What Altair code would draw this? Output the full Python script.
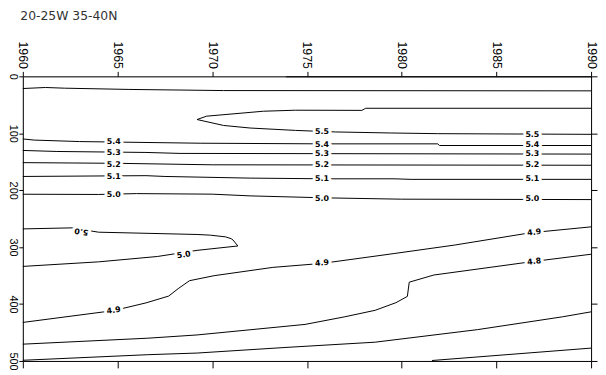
import altair as alt
import pandas as pd

title_text = "20-25W 35-40N"
x_ticks = [1960, 1965, 1970, 1975, 1980, 1985, 1990]
y_ticks = [0, 100, 200, 300, 400, 500]

# contour lines (year, depth)
surf_year = [1973.9, 1990]
surf_depth = [0.8, 0.8]

top_year = [1960, 1961.2, 1962.2, 1965.6, 1970.6, 1990]
top_depth = [21.4, 19.6, 20.8, 23.0, 25.0, 25.5]

c55_year = [1990, 1978.1, 1977.9, 1974.4, 1972.7, 1969.7, 1969.2, 1970.6, 1972.0, 1974.4, 1976.5, 1979.4, 1981.9, 1990]
c55_depth = [56.1, 56.1, 59.8, 59.5, 61.3, 70.0, 75.9, 86.3, 90.8, 95.0, 97.7, 99.5, 100.7, 101.9]

c54_year = [1960, 1960.6, 1963.0, 1969.4, 1975.8, 1981.9, 1982.0, 1990]
c54_depth = [110.0, 112.0, 114.6, 117.5, 118.6, 118.6, 121.5, 121.5]

c53_year = [1960, 1961.8, 1966.5, 1968.3, 1990]
c53_depth = [130.2, 132.0, 133.7, 135.4, 136.6]

c52_year = [1960, 1965, 1970, 1990]
c52_depth = [151.6, 152.8, 155.4, 156.2]

c51_year = [1960, 1966.5, 1967.5, 1972, 1976, 1979.6, 1980.5, 1990]
c51_depth = [175.9, 174.5, 175.9, 178.8, 180.0, 180.0, 181.0, 181.0]

c50_year = [1960, 1964, 1966, 1970, 1972, 1976, 1980, 1990]
c50_depth = [207.1, 207.5, 206.0, 207.0, 210.0, 213.5, 215.8, 216.5]

c50b_year = [1960, 1962.6, 1964.0, 1969.2, 1969.9, 1970.7, 1971.0, 1971.1, 1971.35, 1969.2, 1967.1, 1964.0, 1960]
c50b_depth = [268.0, 266.2, 273.8, 277.8, 279.0, 282.0, 285.2, 287.6, 298.0, 305.7, 316.5, 325.9, 333.9]

c49_year = [1960, 1964.8, 1966.5, 1967.7, 1968.2, 1968.8, 1970.1, 1973.2, 1975.8, 1979.6, 1982.8, 1986.8, 1990]
c49_depth = [432.3, 411.5, 398.0, 386.0, 373.0, 359.0, 350.2, 335.6, 328.6, 311.3, 296.4, 274.8, 264.4]

c48_year = [1960, 1966.6, 1969.2, 1974.9, 1977.0, 1978.6, 1979.7, 1980.3, 1980.4, 1981.7, 1986.8, 1990]
c48_depth = [470.5, 460.0, 454.3, 435.8, 422.4, 411.0, 397.6, 386.6, 361.6, 349.0, 325.9, 312.5]

c47_year = [1960, 1966.6, 1969.2, 1974.0, 1978.6, 1984.0, 1988.5, 1990]
c47_depth = [498.8, 489.0, 486.1, 476.0, 467.0, 445.0, 422.4, 413.7]

c46_year = [1981.6, 1990]
c46_depth = [499.2, 477.4]

line_sets = [
    ("surf", surf_year, surf_depth),
    ("top", top_year, top_depth),
    ("c55", c55_year, c55_depth),
    ("c54", c54_year, c54_depth),
    ("c53", c53_year, c53_depth),
    ("c52", c52_year, c52_depth),
    ("c51", c51_year, c51_depth),
    ("c50", c50_year, c50_depth),
    ("c50b", c50b_year, c50b_depth),
    ("c49", c49_year, c49_depth),
    ("c48", c48_year, c48_depth),
    ("c47", c47_year, c47_depth),
    ("c46", c46_year, c46_depth),
]

label_text = ["5.4", "5.3", "5.2", "5.1", "5.0",
              "5.5", "5.4", "5.3", "5.2", "5.1", "5.0",
              "5.5", "5.4", "5.3", "5.2", "5.1", "5.0",
              "5.0", "5.0", "4.9", "4.9", "4.9", "4.8"]
label_year = [1964.8, 1964.8, 1964.8, 1964.8, 1964.8,
              1975.8, 1975.8, 1975.8, 1975.8, 1975.8, 1975.8,
              1986.9, 1986.9, 1986.9, 1986.9, 1986.9, 1986.9,
              1963.1, 1968.5, 1964.8, 1975.8, 1987.0, 1987.0]
label_depth = [115.7, 134.3, 155.0, 177.6, 208.3,
               98.4, 119.8, 136.0, 156.2, 181.0, 215.3,
               103.0, 121.5, 137.2, 156.2, 181.0, 215.8,
               272.0, 314.2, 412.0, 328.6, 274.8, 325.9]
label_angle = [0, 0, 0, 0, 0,
               0, 0, 0, 0, 0, 0,
               0, 0, 0, 0, 0, 0,
               189, 351, 352, 354, 353, 353]

rows = []
for name, ys, ds in line_sets:
    for i, (yv, dv) in enumerate(zip(ys, ds)):
        rows.append({"line": name, "i": i, "year": yv, "depth": dv})
lines_df = pd.DataFrame(rows)

labels_df = pd.DataFrame({"text": label_text, "year": label_year,
                          "depth": label_depth, "angle": label_angle})

xs = alt.Scale(domain=[1960, 1990], nice=False, zero=False)
ys = alt.Scale(domain=[0, 500], reverse=True, nice=False, zero=False)

tick_font = "Liberation Sans"

top_axis = alt.Axis(orient="top", values=x_ticks, format="d", labelAngle=90,
                    labelAlign="right", labelBaseline="middle", tickSize=5,
                    labelPadding=3, grid=False, labelFont=tick_font,
                    labelFontSize=12.5, labelColor="black", tickColor="black",
                    domainColor="black", labelFlush=False, labelOverlap=False,
                    title=title_text, titleAnchor="start", titleAngle=0,
                    titleAlign="left", titleBaseline="alphabetic",
                    titleX=-3, titleY=-57, titleFont="DejaVu Sans",
                    titleFontSize=12.5, titleFontWeight="normal",
                    titleColor="#333333")
left_axis = alt.Axis(orient="left", values=y_ticks, format="d", labelAngle=90,
                     labelAlign="center", labelBaseline="top", tickSize=4,
                     labelPadding=0, grid=False, title=None, labelFont=tick_font,
                     labelFontSize=11, labelColor="black", tickColor="black",
                     domainColor="black", labelFlush=False, labelOverlap=False)
bottom_axis = alt.Axis(orient="bottom", values=x_ticks, labels=False, tickSize=7,
                       grid=False, title=None, tickColor="black", domainColor="black")
right_axis = alt.Axis(orient="right", values=y_ticks, labels=False, tickSize=6,
                      grid=False, title=None, tickColor="black", domainColor="black")

lines = alt.Chart(lines_df).mark_line(color="black", strokeWidth=1).encode(
    x=alt.X("year:Q", scale=xs, axis=top_axis),
    y=alt.Y("depth:Q", scale=ys, axis=left_axis),
    detail="line:N",
    order="i:Q",
)

halo = alt.Chart(labels_df).mark_text(
    font="DejaVu Sans", fontSize=8, fontWeight="bold",
    fill="white", stroke="white", strokeWidth=6, strokeJoin="round",
).encode(
    x=alt.X("year:Q", scale=xs, axis=bottom_axis),
    y=alt.Y("depth:Q", scale=ys, axis=right_axis),
    text="text:N",
    angle=alt.Angle("angle:Q", scale=None),
)

txt = alt.Chart(labels_df).mark_text(
    font="DejaVu Sans", fontSize=8, fontWeight="bold", color="black",
).encode(
    x=alt.X("year:Q", scale=xs, axis=None),
    y=alt.Y("depth:Q", scale=ys, axis=None),
    text="text:N",
    angle=alt.Angle("angle:Q", scale=None),
)

chart = alt.layer(lines, halo, txt).resolve_axis(
    x="independent", y="independent"
).properties(
    width=575, height=288,
    padding={"left": 15, "top": 67, "right": 7, "bottom": 7},
    autosize=alt.AutoSizeParams(type="none"),
).configure_view(stroke=None).configure(background="white")

chart.save("out.html", embed_options={"renderer": "svg", "actions": False})
